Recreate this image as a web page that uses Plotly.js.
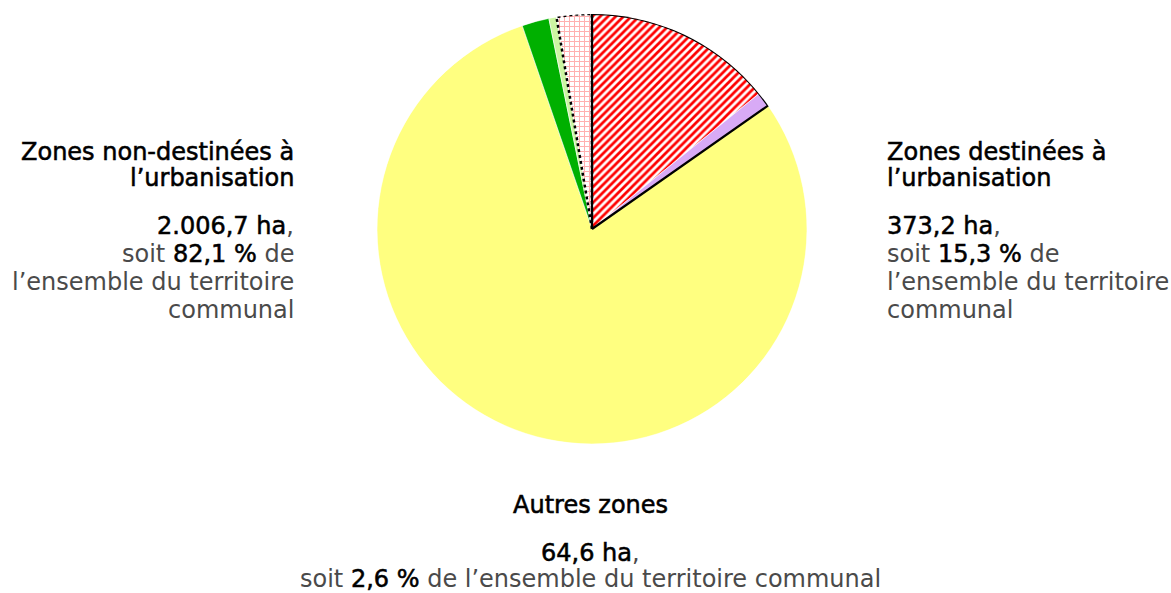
<!DOCTYPE html>
<html>
<head>
<meta charset="utf-8">
<script src="https://cdn.plot.ly/plotly-3.0.1.min.js"></script>
<style>html,body{margin:0;padding:0;background:#fff;}#chart{width:1171px;height:593px;}</style>
</head>
<body>
<div id="chart"></div>
<script>
// ---- Data ----
// Slices, clockwise from 12 o'clock (ha)
const sliceLabels = [
  "Zones destinées à l’urbanisation (hachuré)",
  "Zones destinées à l’urbanisation (violet)",
  "Zones non-destinées à l’urbanisation (jaune)",
  "Zones non-destinées à l’urbanisation (vert)",
  "Zones non-destinées à l’urbanisation (vert clair)",
  "Autres zones"
];
const sliceValues = [346.2, 27.0, 1942.7, 50.0, 14.0, 64.6];
const sliceColors = ["#ff0000", "#d8aaf6", "#ffff80", "#00b000", "#ccf5a2", "#ffb0b0"];
const slicePatterns = ["/", "", "", "", "", "+"];
const slicePatternColors = ["#ff1010", "#d8aaf6", "#ffff80", "#00b000", "#ccf5a2", "#ffb0b0"];
const slicePatternBg = ["#ffffff", "#ffffff", "#ffffff", "#ffffff", "#ffffff", "#ffffff"];

// Groups (labels)
const groupNames = ["Zones destinées à", "Zones non-destinées à", "Autres zones"];
const groupHa = [373.2, 2006.7, 64.6];
const groupPct = [15.3, 82.1, 2.6];
// slices belonging to each group
const groupSlices = [[0, 1], [2, 3, 4], [5]];

// ---- helpers ----
function frNum(v) {
  const parts = v.toFixed(1).split(".");
  const intPart = parts[0].replace(/\B(?=(\d{3})+(?!\d))/g, ".");
  return intPart + "," + parts[1];
}
const total = sliceValues.reduce((a, b) => a + b, 0);
const widths = sliceValues.map(v => v / total * 360);
const starts = [];
let acc = 0;
widths.forEach(w => { starts.push(acc); acc += w; });
const mids = widths.map((w, i) => starts[i] + w / 2);

function outline(groupIdx) {
  const idx = groupSlices[groupIdx];
  const a0 = starts[idx[0]];
  const a1 = starts[idx[idx.length - 1]] + widths[idx[idx.length - 1]];
  const th = [a0], r = [0];
  const n = Math.max(8, Math.ceil((a1 - a0) * 2));
  for (let k = 0; k <= n; k++) { th.push(a0 + (a1 - a0) * k / n); r.push(1); }
  th.push(a1); r.push(0);
  return { th, r };
}

const fillTrace = {
  type: "barpolar",
  r: sliceValues.map(() => 1),
  theta: mids,
  width: widths,
  text: sliceLabels,
  hoverinfo: "none",
  marker: {
    color: sliceColors,
    line: { color: "#ffffff", width: 0.6 },
    pattern: {
      shape: slicePatterns,
      fgcolor: slicePatternColors,
      bgcolor: slicePatternBg,
      fillmode: "replace",
      size: [5.5, 6, 6, 6, 6, 5],
      solidity: [0.5, 0.3, 0.3, 0.3, 0.3, 0.36]
    }
  },
  showlegend: false
};

const o1 = outline(0);
const o3 = outline(2);
const outline1 = {
  type: "scatterpolar", mode: "lines", r: o1.r, theta: o1.th,
  line: { color: "#000000", width: 2.2 }, hoverinfo: "none", showlegend: false
};
const outline3 = {
  type: "scatterpolar", mode: "lines", r: o3.r, theta: o3.th,
  line: { color: "#000000", width: 2.5, dash: "dot" }, hoverinfo: "none", showlegend: false
};

// ---- annotations ----
const W = 1171, H = 593;
const FONT = "DejaVu Sans, Verdana, sans-serif";
const GREY = "#4a4a4a";
function ann(text, xpx, ypx, xanchor, color) {
  return {
    text: text, x: xpx / W, y: 1 - ypx / H, xref: "paper", yref: "paper",
    xanchor: xanchor, yanchor: "middle", showarrow: false, borderpad: 0,
    align: xanchor === "center" ? "center" : xanchor,
    font: { family: FONT, size: 24, color: color || "#000000" }
  };
}
const blk = s => '<span style="color:#000000;stroke:#000000;stroke-width:0.55px">' + s + '</span>';
const annotations = [];
// Left block : Zones non-destinées
annotations.push(ann(blk(groupNames[1]), 295, 152, "right"));
annotations.push(ann(blk("l’urbanisation"), 295, 178, "right"));
annotations.push(ann(blk(frNum(groupHa[1]) + " ha") + ",", 295, 226, "right", GREY));
annotations.push(ann("soit " + blk(frNum(groupPct[1]) + " %") + " de", 295, 254, "right", GREY));
annotations.push(ann("l’ensemble du territoire", 295, 282, "right", GREY));
annotations.push(ann("communal", 295, 310, "right", GREY));
// Right block : Zones destinées
annotations.push(ann(blk(groupNames[0]), 886, 152, "left"));
annotations.push(ann(blk("l’urbanisation"), 886, 178, "left"));
annotations.push(ann(blk(frNum(groupHa[0]) + " ha") + ",", 886, 226, "left", GREY));
annotations.push(ann("soit " + blk(frNum(groupPct[0]) + " %") + " de", 886, 254, "left", GREY));
annotations.push(ann("l’ensemble du territoire", 886, 282, "left", GREY));
annotations.push(ann("communal", 886, 310, "left", GREY));
// Bottom block : Autres zones
annotations.push(ann(blk(groupNames[2]), 590, 505, "center"));
annotations.push(ann(blk(frNum(groupHa[2]) + " ha") + ",", 590, 553, "center", GREY));
annotations.push(ann("soit " + blk(frNum(groupPct[2]) + " %") + " de l’ensemble du territoire communal", 590, 579, "center", GREY));

const layout = {
  width: W, height: H,
  margin: { l: 0, r: 0, t: 0, b: 0 },
  paper_bgcolor: "#ffffff",
  showlegend: false,
  polar: {
    domain: { x: [(592 - 215) / W, (592 + 215) / W], y: [1 - 444 / H, 1 - 14 / H] },
    bgcolor: "rgba(0,0,0,0)",
    bargap: 0,
    radialaxis: { visible: false, range: [0, 1] },
    angularaxis: { visible: false, direction: "clockwise", rotation: 90 }
  },
  annotations: annotations
};

Plotly.newPlot("chart", [fillTrace, outline1, outline3], layout, { staticPlot: true, displayModeBar: false });
</script>
</body>
</html>
